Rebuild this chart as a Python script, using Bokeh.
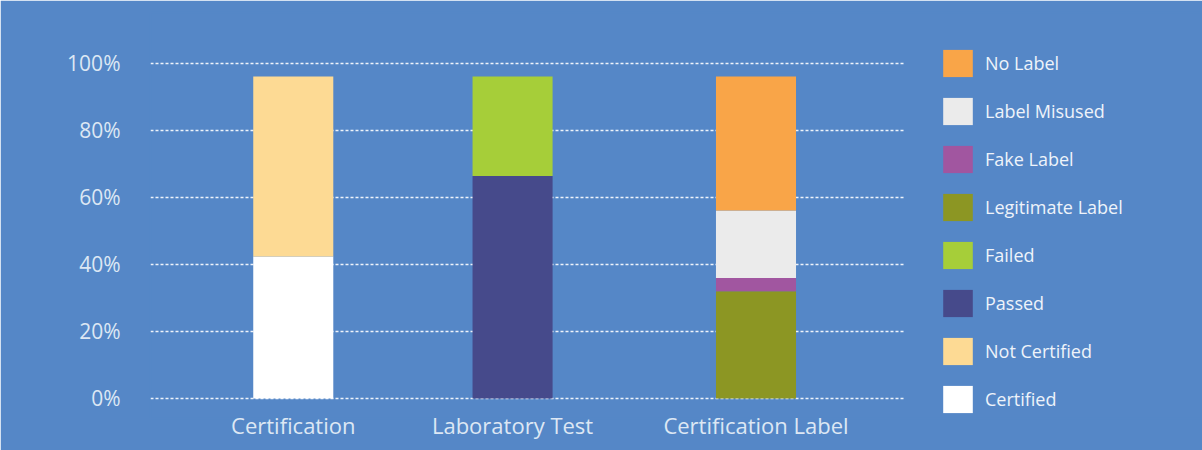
from bokeh.plotting import figure
from bokeh.models import (ColumnDataSource, Range1d, FixedTicker, Legend, LegendItem)
from bokeh.embed import file_html
from bokeh.resources import INLINE

# ---- data ----
categories = ["Certification", "Laboratory Test", "Certification Label"]
cat_pos = [0.0, 1.0, 2.11]
series_names = ["Certified", "Not Certified", "Passed", "Failed",
                "Legitimate Label", "Fake Label", "Label Misused", "No Label"]
certified = [42.4, 0, 0]
not_certified = [53.7, 0, 0]
passed = [0, 66.4, 0]
failed = [0, 29.7, 0]
legitimate_label = [0, 0, 32.0]
fake_label = [0, 0, 4.0]
label_misused = [0, 0, 20.1]
no_label = [0, 0, 40.0]
y_ticks = [0, 20, 40, 60, 80, 100]
y_tick_labels = ["0%", "20%", "40%", "60%", "80%", "100%"]

colors = ["#FFFFFF", "#FDDA94", "#464A8B", "#A6CE39",
          "#8C9623", "#A156A0", "#EBEBEB", "#F9A548"]

BG = "#5587C7"
TXT = "#DDE7F4"
FONT = "Open Sans"

X_START, GRID_END, X_END = -0.651, 2.792, 4.146

data = dict(x=cat_pos)
for name, vals in zip(series_names, [certified, not_certified, passed, failed,
                                      legitimate_label, fake_label, label_misused, no_label]):
    data[name] = vals
source = ColumnDataSource(data)

p = figure(width=1202, height=450, output_backend="svg", toolbar_location=None,
           x_range=Range1d(X_START, X_END), y_range=Range1d(-5.97, 115.22),
           min_border_left=150, min_border_right=0, min_border_top=12,
           min_border_bottom=32)
p.background_fill_color = BG
p.border_fill_color = BG
p.outline_line_color = BG
p.outline_line_width = 2

renderers = p.vbar_stack(series_names, x="x", width=0.365, source=source,
                         color=colors, line_color=None)

# axes
p.yaxis.ticker = FixedTicker(ticks=y_ticks)
p.yaxis.major_label_overrides = {t: l for t, l in zip(y_ticks, y_tick_labels)}
p.xaxis.ticker = FixedTicker(ticks=cat_pos)
p.xaxis.major_label_overrides = {t: l for t, l in zip(cat_pos, categories)}
for ax in (p.xaxis, p.yaxis):
    ax.axis_line_color = None
    ax.major_tick_line_color = None
    ax.minor_tick_line_color = None
    ax.major_label_text_color = TXT
    ax.major_label_text_font = FONT
p.yaxis.major_label_text_font_size = "21px"
p.yaxis.major_label_standoff = 24
p.xaxis.major_label_text_font_size = "22px"
p.xaxis.major_label_standoff = -15

p.xgrid.grid_line_color = None
yg = p.ygrid[0]
yg.ticker = FixedTicker(ticks=y_ticks)
yg.grid_line_color = "#EEF3FA"
yg.grid_line_width = 1.5
yg.grid_line_dash = "3 2"
if "cross_bounds" in yg.properties():
    yg.cross_bounds = (X_START, GRID_END)
else:
    yg.grid_line_color = None
    p.segment(x0=[X_START] * len(y_ticks), x1=[GRID_END] * len(y_ticks),
              y0=y_ticks, y1=y_ticks, line_color="#EEF3FA", line_width=1.5,
              line_dash="3 2")

items = [LegendItem(label=n, renderers=[r]) for n, r in zip(series_names, renderers)]
items = items[::-1]
legend = Legend(items=items, location=(789, 2), orientation="vertical",
                glyph_width=37, glyph_height=34, spacing=14, label_standoff=9,
                label_text_font=FONT, label_text_font_size="18px",
                label_text_color="#EEF3FA", border_line_color=None,
                background_fill_alpha=0, margin=0, padding=0)
p.add_layout(legend, "center")

open("out.html", "w").write(file_html(p, INLINE))
